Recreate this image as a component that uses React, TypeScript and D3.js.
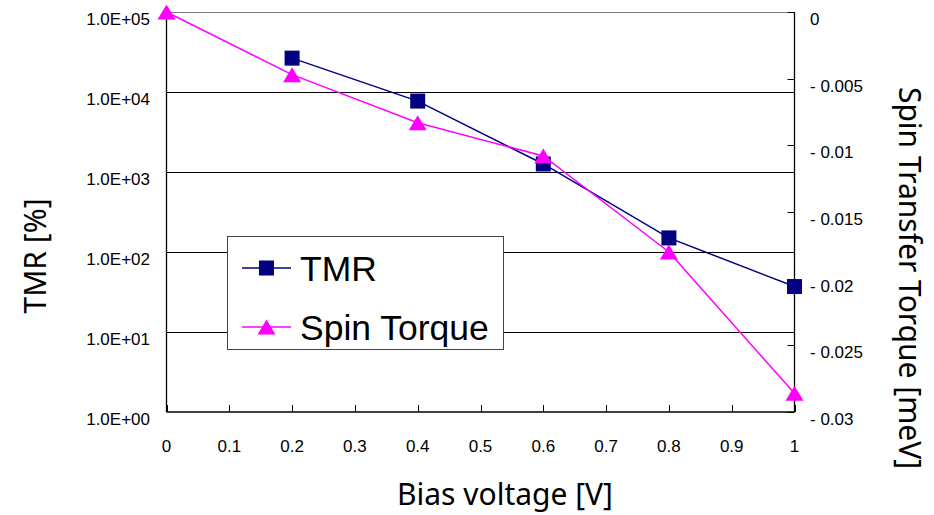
import React from "react";
import * as d3 from "d3";

const biasTicks = [0, 0.1, 0.2, 0.3, 0.4, 0.5, 0.6, 0.7, 0.8, 0.9, 1];
const tmrTicks = [1, 10, 100, 1000, 10000, 100000];
const tmrTickLabels = ["1.0E+00", "1.0E+01", "1.0E+02", "1.0E+03", "1.0E+04", "1.0E+05"];
const torqueTicks = [0, -0.005, -0.01, -0.015, -0.02, -0.025, -0.03];
const torqueTickLabels = ["0", "- 0.005", "- 0.01", "- 0.015", "- 0.02", "- 0.025", "- 0.03"];

const tmrBias = [0.2, 0.4, 0.6, 0.8, 1.0];
const tmrValues = [26500, 7700, 1260, 150, 37];

const torqueBias = [0, 0.2, 0.4, 0.6, 0.8, 1.0];
const torqueValues = [0, -0.0047, -0.0083, -0.0108, -0.018, -0.0286];

const W = 934;
const H = 515;
const L = 166.5, R = 794.5, T = 12, B = 412;

const tickFont = "'Liberation Sans', Arial, sans-serif";
const titleFont = "'Noto Sans', 'Open Sans', sans-serif";

const crisp = (v: number) => Math.round(v) + 0.5;

export default function App() {
  const x = d3.scaleLinear().domain([0, 1]).range([L, R]);
  const yL = d3.scaleLog().domain([1, 1e5]).range([B, T]);
  const yR = d3.scaleLinear().domain([-0.03, 0]).range([B, T]);

  const tmrLine = d3
    .line<number>()
    .x((_, i) => x(tmrBias[i]))
    .y((d) => yL(d));
  const torqueLine = d3
    .line<number>()
    .x((_, i) => x(torqueBias[i]))
    .y((d) => yR(d));

  const sq = 15;
  const triPath = (cx: number, cy: number, w = 18, h = 15) =>
    `M${cx},${cy - h / 2}L${cx + w / 2},${cy + h / 2}L${cx - w / 2},${cy + h / 2}Z`;

  const legX = 227.5, legY = 236.5, legW = 276, legH = 113;
  const row1 = 268, row2 = 327;

  return (
    <svg
      width={W}
      height={H}
      style={{ position: "fixed", left: 0, top: 0, background: "#fff" }}
    >
      <rect x={0} y={0} width={W} height={H} fill="#fff" />
      {/* gridlines */}
      {tmrTicks.slice(1, 5).map((t) => (
        <line key={t} x1={L} x2={R} y1={crisp(yL(t))} y2={crisp(yL(t))} stroke="#000" strokeWidth={1} />
      ))}
      <line x1={L} x2={R} y1={T + 0.5} y2={T + 0.5} stroke="#808080" strokeWidth={1.2} />
      {/* axes */}
      <line x1={L} x2={L} y1={T} y2={B} stroke="#000" strokeWidth={1.3} />
      <line x1={L} x2={R} y1={B} y2={B} stroke="#000" strokeWidth={1.3} />
      <line x1={R} x2={R} y1={T} y2={B} stroke="#000" strokeWidth={1.3} />
      {biasTicks.map((t) => (
        <g key={t}>
          <line x1={crisp(x(t))} x2={crisp(x(t))} y1={B} y2={B - 7} stroke="#000" strokeWidth={1} />
          <text
            x={x(t)}
            y={452}
            textAnchor="middle"
            fontFamily={tickFont}
            fontSize={17}
            fill="#000"
          >
            {String(t)}
          </text>
        </g>
      ))}
      {tmrTicks.map((t, i) => (
        <text
          key={t}
          x={150}
          y={yL(t) + 13}
          textAnchor="end"
          fontFamily={tickFont}
          fontSize={17}
          fill="#000"
        >
          {tmrTickLabels[i]}
        </text>
      ))}
      {torqueTicks.map((t, i) => (
        <g key={t}>
          <line x1={R - 7} x2={R} y1={crisp(yR(t))} y2={crisp(yR(t))} stroke="#000" strokeWidth={1} />
          <text
            x={810}
            y={yR(t) + 13}
            textAnchor="start"
            fontFamily={tickFont}
            fontSize={17}
            fill="#000"
          >
            {torqueTickLabels[i]}
          </text>
        </g>
      ))}
      {/* titles */}
      <text
        x={505}
        y={505}
        textAnchor="middle"
        fontFamily={titleFont}
        fontSize={30}
        fill="#000"
      >
        Bias voltage [V]
      </text>
      <text
        transform="translate(46,256) rotate(-90)"
        textAnchor="middle"
        fontFamily={titleFont}
        fontSize={30}
        fill="#000"
      >
        TMR [%]
      </text>
      <text
        transform="translate(899,278) rotate(90)"
        textAnchor="middle"
        fontFamily={titleFont}
        fontSize={30}
        fill="#000"
      >
        Spin Transfer Torque [meV]
      </text>
      {/* legend */}
      <rect x={legX} y={legY} width={legW} height={legH} fill="#fff" stroke="#444" strokeWidth={1} />
      <line x1={242} x2={291} y1={row1} y2={row1} stroke="#000080" strokeWidth={1.5} />
      <rect x={266.5 - sq / 2} y={row1 - sq / 2} width={sq} height={sq} fill="#000080" />
      <text x={300} y={row1 + 13} fontFamily={tickFont} fontSize={35.5} fill="#000">
        TMR
      </text>
      <line x1={242} x2={291} y1={row2} y2={row2} stroke="#FF00FF" strokeWidth={1.5} />
      <path d={triPath(266.5, row2)} fill="#FF00FF" />
      <text x={300} y={row2 + 13} fontFamily={tickFont} fontSize={35.5} fill="#000">
        Spin Torque
      </text>
      {/* series */}
      <path d={tmrLine(tmrValues) || ""} fill="none" stroke="#000080" strokeWidth={1.5} />
      <path d={torqueLine(torqueValues) || ""} fill="none" stroke="#FF00FF" strokeWidth={1.5} />
      {tmrValues.map((v, i) => (
        <rect
          key={i}
          x={x(tmrBias[i]) - sq / 2}
          y={yL(v) - sq / 2}
          width={sq}
          height={sq}
          fill="#000080"
        />
      ))}
      {torqueValues.map((v, i) => (
        <path key={i} d={triPath(x(torqueBias[i]), yR(v))} fill="#FF00FF" />
      ))}
    </svg>
  );
}
